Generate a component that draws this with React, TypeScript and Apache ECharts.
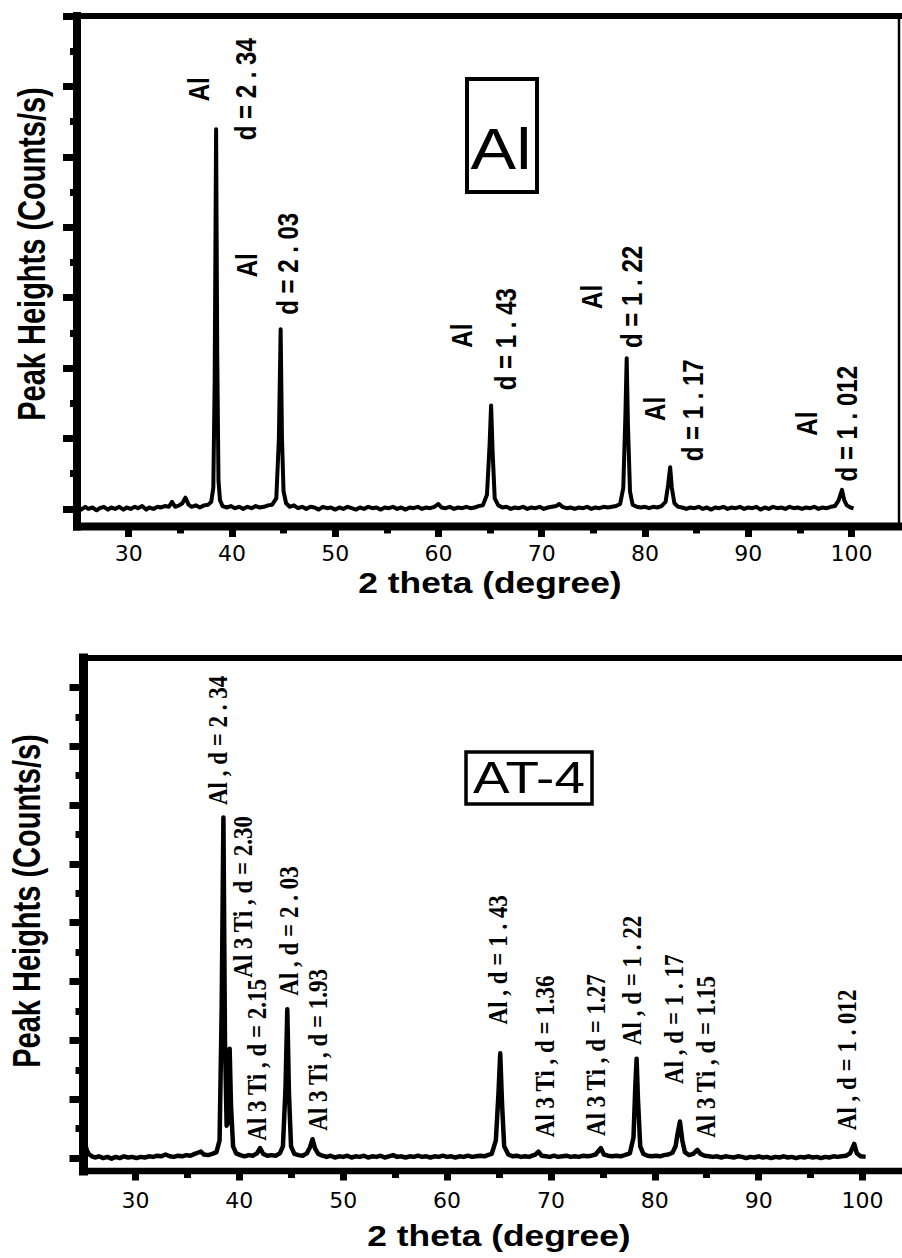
import React, { useEffect, useRef } from "react";
import * as echarts from "echarts";

// ---------- data ----------
const alSpectrum: [number, number][] = [
  [25.1, 0.02], [25.4, -0.01], [25.8, 0.03], [26.1, 0.0], [26.5, 0.02], [26.9, -0.02], [27.2, 0.01], [27.6, 0.03],
  [28.0, -0.01], [28.3, 0.02], [28.7, 0.0], [29.1, 0.03], [29.5, -0.01], [29.8, 0.02], [30.2, 0.0], [30.6, 0.03],
  [30.9, 0.01], [31.3, 0.04], [31.7, -0.01], [32.0, 0.02], [32.4, 0.0], [32.8, 0.03], [33.1, 0.02], [33.5, 0.04],
  [33.9, 0.03], [34.2, 0.1], [34.5, 0.03], [34.9, 0.05], [35.2, 0.08], [35.5, 0.16], [35.8, 0.06], [36.1, 0.03],
  [36.5, 0.05], [36.9, 0.02], [37.3, 0.05], [37.7, 0.06], [38.0, 0.1], [38.2, 0.3], [38.33, 1.8], [38.47, 5.39],
  [38.58, 2.2], [38.7, 0.4], [38.85, 0.12], [39.1, 0.04], [39.5, 0.02], [39.9, 0.04], [40.3, 0.01], [40.7, 0.03],
  [41.1, 0.0], [41.5, 0.03], [41.9, 0.01], [42.3, 0.04], [42.7, 0.02], [43.1, 0.03], [43.5, 0.05], [43.9, 0.06],
  [44.3, 0.15], [44.55, 1.0], [44.72, 2.55], [44.85, 1.0], [45.0, 0.25], [45.25, 0.08], [45.6, 0.03], [46.0, 0.05],
  [46.4, 0.01], [46.8, 0.03], [47.2, 0.0], [47.6, 0.03], [48.0, 0.02], [48.4, -0.01], [48.8, 0.03], [49.2, 0.01],
  [49.6, 0.02], [50.0, -0.01], [50.4, 0.02], [50.8, 0.0], [51.2, 0.03], [51.6, 0.01], [52.0, -0.01], [52.4, 0.02],
  [52.8, 0.0], [53.2, 0.03], [53.6, 0.01], [54.0, 0.02], [54.4, -0.01], [54.8, 0.02], [55.2, 0.01], [55.6, 0.03],
  [56.0, 0.0], [56.4, 0.02], [56.8, -0.01], [57.2, 0.02], [57.6, 0.01], [58.0, 0.03], [58.4, 0.0], [58.8, 0.02],
  [59.2, 0.01], [59.6, 0.03], [60.0, 0.07], [60.3, 0.02], [60.7, 0.01], [61.1, 0.03], [61.5, 0.0], [61.9, 0.02],
  [62.3, 0.01], [62.7, 0.03], [63.1, 0.01], [63.5, 0.02], [63.9, 0.04], [64.3, 0.05], [64.7, 0.2], [64.95, 0.9],
  [65.1, 1.47], [65.25, 0.8], [65.45, 0.15], [65.8, 0.05], [66.2, 0.02], [66.6, 0.03], [67.0, 0.0], [67.4, 0.02],
  [67.8, 0.01], [68.2, 0.03], [68.6, 0.0], [69.0, 0.02], [69.4, 0.01], [69.8, 0.03], [70.2, 0.0], [70.6, 0.02],
  [71.0, 0.03], [71.4, 0.04], [71.7, 0.07], [72.0, 0.03], [72.4, 0.01], [72.8, 0.02], [73.2, 0.0], [73.6, 0.02],
  [74.0, 0.01], [74.4, 0.03], [74.8, 0.0], [75.2, 0.02], [75.6, 0.01], [76.0, 0.03], [76.4, 0.02], [76.8, 0.03],
  [77.2, 0.04], [77.6, 0.07], [77.9, 0.3], [78.1, 1.3], [78.23, 2.14], [78.35, 1.2], [78.55, 0.25], [78.8, 0.06],
  [79.2, 0.03], [79.6, 0.02], [80.0, 0.03], [80.4, 0.01], [80.8, 0.03], [81.2, 0.02], [81.6, 0.04], [82.0, 0.1],
  [82.25, 0.35], [82.44, 0.59], [82.6, 0.3], [82.85, 0.08], [83.2, 0.03], [83.6, 0.02], [84.0, 0.0], [84.4, 0.02],
  [84.8, 0.01], [85.2, 0.03], [85.6, 0.0], [86.0, 0.02], [86.4, -0.01], [86.8, 0.02], [87.2, 0.01], [87.6, 0.03],
  [88.0, 0.0], [88.4, 0.02], [88.8, 0.01], [89.2, 0.03], [89.6, 0.0], [90.0, 0.02], [90.4, 0.01], [90.8, 0.03],
  [91.2, -0.01], [91.6, 0.02], [92.0, 0.0], [92.4, 0.03], [92.8, 0.01], [93.2, 0.02], [93.6, 0.0], [94.0, 0.03],
  [94.4, 0.01], [94.8, 0.02], [95.2, 0.0], [95.6, 0.02], [96.0, 0.01], [96.4, 0.03], [96.8, 0.0], [97.2, 0.02],
  [97.6, 0.01], [98.0, 0.03], [98.4, 0.04], [98.75, 0.12], [99.08, 0.27], [99.3, 0.12], [99.55, 0.05], [99.9, 0.02],
  [100.2, 0.01],
];

const at4Spectrum: [number, number][] = [
  [25.05, 0.04], [25.15, 0.26], [25.3, 0.14], [25.5, 0.07], [25.8, 0.03], [26.1, 0.01], [26.5, 0.03], [26.9, 0.0],
  [27.3, 0.02], [27.7, -0.01], [28.1, 0.02], [28.5, 0.0], [28.9, 0.03], [29.3, 0.01], [29.7, 0.02], [30.1, 0.0],
  [30.5, 0.02], [30.9, 0.01], [31.3, 0.03], [31.7, 0.02], [32.1, 0.04], [32.5, 0.03], [32.9, 0.06], [33.3, 0.03],
  [33.7, 0.02], [34.1, 0.04], [34.5, 0.03], [34.9, 0.05], [35.3, 0.04], [35.7, 0.07], [36.0, 0.09], [36.3, 0.11],
  [36.6, 0.06], [37.0, 0.05], [37.4, 0.07], [37.8, 0.1], [38.1, 0.3], [38.3, 2.5], [38.47, 5.79], [38.62, 2.0],
  [38.78, 0.55], [38.9, 0.6], [39.07, 1.86], [39.2, 0.9], [39.4, 0.2], [39.7, 0.08], [40.1, 0.05], [40.5, 0.03],
  [40.9, 0.05], [41.3, 0.04], [41.7, 0.08], [42.0, 0.17], [42.3, 0.07], [42.7, 0.04], [43.1, 0.05], [43.5, 0.04],
  [43.9, 0.08], [44.2, 0.2], [44.45, 1.2], [44.62, 2.53], [44.78, 1.1], [44.98, 0.2], [45.3, 0.07], [45.7, 0.05],
  [46.1, 0.04], [46.5, 0.08], [46.8, 0.18], [47.05, 0.32], [47.3, 0.16], [47.6, 0.07], [48.0, 0.04], [48.4, 0.02],
  [48.8, 0.04], [49.2, 0.01], [49.6, 0.03], [50.0, 0.02], [50.4, 0.04], [50.8, 0.01], [51.2, 0.03], [51.6, 0.02],
  [52.0, 0.04], [52.4, 0.01], [52.8, 0.03], [53.2, 0.02], [53.6, 0.04], [54.0, 0.01], [54.4, 0.03], [54.8, 0.05],
  [55.2, 0.02], [55.6, 0.03], [56.0, 0.01], [56.4, 0.03], [56.8, 0.02], [57.2, 0.04], [57.6, 0.02], [58.0, 0.03],
  [58.4, 0.01], [58.8, 0.03], [59.2, 0.02], [59.6, 0.04], [60.0, 0.02], [60.4, 0.03], [60.8, 0.01], [61.2, 0.03],
  [61.6, 0.02], [62.0, 0.04], [62.4, 0.02], [62.8, 0.03], [63.2, 0.04], [63.6, 0.03], [63.9, 0.05], [64.3, 0.07],
  [64.7, 0.3], [64.95, 1.1], [65.12, 1.78], [65.3, 0.9], [65.5, 0.2], [65.9, 0.06], [66.3, 0.03], [66.7, 0.04],
  [67.1, 0.02], [67.5, 0.03], [67.9, 0.02], [68.2, 0.04], [68.5, 0.06], [68.8, 0.11], [69.1, 0.04], [69.5, 0.03],
  [69.9, 0.02], [70.3, 0.04], [70.7, 0.02], [71.1, 0.03], [71.5, 0.04], [71.9, 0.02], [72.3, 0.03], [72.7, 0.02],
  [73.1, 0.04], [73.5, 0.03], [73.9, 0.04], [74.3, 0.06], [74.8, 0.17], [75.1, 0.06], [75.5, 0.04], [75.9, 0.03],
  [76.3, 0.04], [76.7, 0.03], [77.1, 0.05], [77.6, 0.08], [77.95, 0.35], [78.12, 1.2], [78.25, 1.69], [78.38, 1.0],
  [78.6, 0.2], [78.9, 0.07], [79.3, 0.04], [79.7, 0.03], [80.1, 0.04], [80.5, 0.03], [80.9, 0.05], [81.3, 0.06],
  [81.7, 0.09], [82.0, 0.2], [82.2, 0.42], [82.42, 0.62], [82.65, 0.3], [82.9, 0.1], [83.3, 0.05], [83.7, 0.07],
  [84.1, 0.14], [84.4, 0.07], [84.8, 0.04], [85.2, 0.03], [85.6, 0.02], [86.0, 0.03], [86.4, 0.01], [86.8, 0.03],
  [87.2, 0.02], [87.6, 0.01], [88.0, 0.03], [88.4, 0.02], [88.8, 0.0], [89.2, 0.02], [89.6, 0.01], [90.0, 0.03],
  [90.4, 0.01], [90.8, 0.02], [91.2, 0.0], [91.6, 0.02], [92.0, 0.01], [92.4, 0.03], [92.8, 0.01], [93.2, 0.02],
  [93.6, 0.0], [94.0, 0.02], [94.4, 0.01], [94.8, 0.03], [95.2, 0.01], [95.6, 0.02], [96.0, 0.0], [96.4, 0.02],
  [96.8, 0.01], [97.2, 0.03], [97.6, 0.02], [98.0, 0.03], [98.4, 0.04], [98.8, 0.08], [99.2, 0.24], [99.45, 0.08],
  [99.8, 0.03], [100.3, 0.02],
];

const alLabels = [
  { x: 36.81, y: 5.96, text: "Al" },
  { x: 41.27, y: 5.96, text: "d = 2 . 34" },
  { x: 41.46, y: 3.46, text: "Al" },
  { x: 45.43, y: 3.48, text: "d = 2 . 03" },
  { x: 62.28, y: 2.46, text: "Al" },
  { x: 66.45, y: 2.41, text: "d = 1 . 43" },
  { x: 74.87, y: 3.01, text: "Al" },
  { x: 78.65, y: 3.01, text: "d = 1 . 22" },
  { x: 80.97, y: 1.42, text: "Al" },
  { x: 84.65, y: 1.4, text: "d = 1 . 17" },
  { x: 95.69, y: 1.21, text: "Al" },
  { x: 99.56, y: 1.21, text: "d = 1 . 012" },
];

const at4Labels = [
  { x: 37.85, y: 7.1, text: "Al , d = 2 . 34" },
  { x: 40.26, y: 4.44, text: "Al 3 Ti , d = 2.30" },
  { x: 41.61, y: 1.67, text: "Al 3 Ti , d = 2.15" },
  { x: 44.69, y: 3.86, text: "Al , d = 2 . 03" },
  { x: 47.48, y: 1.84, text: "Al 3 Ti , d = 1.93" },
  { x: 64.81, y: 3.37, text: "Al , d = 1 . 43" },
  { x: 69.34, y: 1.73, text: "Al 3 Ti , d = 1.36" },
  { x: 74.25, y: 1.75, text: "Al 3 Ti , d = 1.27" },
  { x: 77.71, y: 3.02, text: "Al , d = 1 . 22" },
  { x: 81.75, y: 2.36, text: "Al , d = 1 . 17" },
  { x: 84.83, y: 1.72, text: "Al 3 Ti , d = 1.15" },
  { x: 98.41, y: 1.67, text: "Al , d = 1 . 012" },
];

const sampleNames = ["Al", "AT-4"];
const xAxisTitle = "2 theta (degree)";
const yAxisTitle = "Peak Heights (Counts/s)";
const xTickRange = [30, 100, 10];

// ---------- layout ----------
const W = 902;
const H = 1258;
const BLACK = "#000";

type Panel = {
  left: number; right: number; top: number; bottom: number;
  xMin: number; xMax: number; yMin: number; yMax: number; tickYMax: number;
  leftW: number; bottomW: number; topW: number; rightW: number;
  labelMargin: number; xTickLen: number; xMinorLen: number; yTickLen: number; yMinorLen: number;
};

const P1: Panel = {
  left: 77, right: 899, top: 16, bottom: 526.5,
  xMin: 25, xMax: 104.6, yMin: -0.25, yMax: 7, tickYMax: 7,
  leftW: 8, bottomW: 8, topW: 6, rightW: 2.5,
  labelMargin: 16, xTickLen: 10.5, xMinorLen: 7, yTickLen: 14, yMinorLen: 7,
};
const P2: Panel = {
  left: 83.5, right: 902, top: 658, bottom: 1171,
  xMin: 25, xMax: 103.8, yMin: -0.22, yMax: 8.5, tickYMax: 8,
  leftW: 9, bottomW: 6.5, topW: 6, rightW: 0,
  labelMargin: 18, xTickLen: 9.5, xMinorLen: 7, yTickLen: 14, yMinorLen: 8,
};

function buildPanel(p: Panel, base: number) {
  const sx = (p.right - p.left) / (p.xMax - p.xMin);
  const sy = (p.bottom - p.top) / (p.yMax - p.yMin);
  const y0 = p.bottom + p.yMin * sy;
  const tx0 = p.left + (xTickRange[0] - p.xMin) * sx;
  const grids = [
    { left: p.left, top: p.top, width: p.right - p.left, height: p.bottom - p.top, outerBoundsMode: "none" },
    {
      left: tx0, top: y0 - p.tickYMax * sy, width: (xTickRange[1] - xTickRange[0]) * sx,
      height: p.tickYMax * sy, outerBoundsMode: "none",
    },
  ];
  const hidden = { show: false, onZero: false };
  const xAxes = [
    {
      gridIndex: base, type: "value", position: "bottom", min: p.xMin, max: p.xMax,
      axisLine: hidden, axisTick: { show: false }, axisLabel: { show: false }, splitLine: { show: false },
    },
    {
      gridIndex: base + 1, type: "value", position: "bottom",
      min: xTickRange[0], max: xTickRange[1], interval: xTickRange[2], offset: p.bottom - y0,
      axisLine: hidden,
      axisTick: { show: true, inside: false, length: p.xTickLen, lineStyle: { color: BLACK, width: 7 } },
      minorTick: { show: true, splitNumber: 2, length: p.xMinorLen, lineStyle: { color: BLACK, width: 7 } },
      axisLabel: { show: true, margin: p.labelMargin, fontSize: 22, fontFamily: "DejaVu Sans", color: BLACK },
      splitLine: { show: false },
    },
  ];
  const yAxes = [
    {
      gridIndex: base, type: "value", position: "left", min: p.yMin, max: p.yMax,
      axisLine: hidden, axisTick: { show: false }, axisLabel: { show: false }, splitLine: { show: false },
    },
    {
      gridIndex: base + 1, type: "value", position: "left",
      min: 0, max: p.tickYMax, interval: 1, offset: tx0 - p.left,
      axisLine: hidden,
      axisTick: { show: true, inside: false, length: p.yTickLen, lineStyle: { color: BLACK, width: 7 } },
      minorTick: { show: true, splitNumber: 2, length: p.yMinorLen, lineStyle: { color: BLACK, width: 7 } },
      axisLabel: { show: false }, splitLine: { show: false },
    },
  ];
  // frame lines (plot borders)
  const ln = (x1: number, y1: number, x2: number, y2: number, w: number) => ({
    type: "line", z: 20, shape: { x1, y1, x2, y2 },
    style: { stroke: BLACK, lineWidth: w, lineCap: "square" },
  });
  const frame: any[] = [
    ln(p.left, p.top, p.left, p.bottom, p.leftW),
    ln(p.left, p.bottom, p.right, p.bottom, p.bottomW),
    ln(p.left, p.top, p.right, p.top, p.topW),
  ];
  if (p.rightW > 0) frame.push(ln(p.right, p.top, p.right, p.bottom, p.rightW));
  return { grids, xAxes, yAxes, frame };
}

export default function App() {
  const ref = useRef<HTMLDivElement>(null);
  useEffect(() => {
    if (!ref.current) return;
    const chart = echarts.init(ref.current, null, { renderer: "svg", width: W, height: H });
    const a = buildPanel(P1, 0);
    const b = buildPanel(P2, 2);
    const option: any = {
      animation: false,
      backgroundColor: "#fff",
      grid: [...a.grids, ...b.grids],
      xAxis: [...a.xAxes, ...b.xAxes],
      yAxis: [...a.yAxes, ...b.yAxes],
      series: [
        {
          type: "line", name: sampleNames[0], xAxisIndex: 0, yAxisIndex: 0, data: alSpectrum,
          showSymbol: false, symbol: "none", silent: true, z: 3,
          lineStyle: { color: BLACK, width: 4, join: "round" },
        },
        {
          type: "line", name: sampleNames[1], xAxisIndex: 2, yAxisIndex: 2, data: at4Spectrum,
          showSymbol: false, symbol: "none", silent: true, z: 3,
          lineStyle: { color: BLACK, width: 4.5, join: "round" },
        },
      ],
    };
    chart.setOption(option);

    const graphics: any[] = [...a.frame, ...b.frame];
    const sansBold = { fontFamily: "Liberation Sans, Arial, sans-serif", fontWeight: "bold" };
    const addXTitle = (x: number, y: number) =>
      graphics.push({
        type: "text", x, y, scaleX: 1.22, z: 10,
        style: { text: xAxisTitle, fontSize: 29, ...sansBold, fill: BLACK, align: "center", verticalAlign: "middle" },
      });
    const addYTitle = (x: number, y: number) =>
      graphics.push({
        type: "text", x, y, rotation: Math.PI / 2, scaleY: 1.35, z: 10,
        style: { text: yAxisTitle, fontSize: 29, ...sansBold, fill: BLACK, align: "center", verticalAlign: "middle" },
      });
    addXTitle(490, 583);
    addXTitle(499, 1236);
    addYTitle(31, 254);
    addYTitle(26, 901);

    graphics.push({
      type: "rect", shape: { x: 467, y: 79, width: 70, height: 113 }, z: 10,
      style: { fill: "none", stroke: BLACK, lineWidth: 4 },
    });
    graphics.push({
      type: "text", x: 501, y: 149, scaleX: 1.18, z: 10,
      style: {
        text: sampleNames[0], fontSize: 58, fontFamily: "Liberation Sans, Arial, sans-serif",
        fill: BLACK, align: "center", verticalAlign: "middle",
      },
    });
    graphics.push({
      type: "rect", shape: { x: 466, y: 752, width: 126, height: 52 }, z: 10,
      style: { fill: "none", stroke: BLACK, lineWidth: 3.5 },
    });
    graphics.push({
      type: "text", x: 529, y: 778, scaleX: 1.22, z: 10,
      style: {
        text: sampleNames[1], fontSize: 45, fontFamily: "Liberation Sans, Arial, sans-serif",
        fill: BLACK, align: "center", verticalAlign: "middle",
      },
    });

    alLabels.forEach((l) => {
      const [px, py] = chart.convertToPixel({ xAxisIndex: 0, yAxisIndex: 0 } as any, [l.x, l.y]) as number[];
      graphics.push({
        type: "text", x: px, y: py, rotation: Math.PI / 2, scaleY: 1.25, z: 10,
        style: { text: l.text, fontSize: 24, ...sansBold, fill: BLACK, align: "center", verticalAlign: "middle" },
      });
    });
    at4Labels.forEach((l) => {
      const [px, py] = chart.convertToPixel({ xAxisIndex: 2, yAxisIndex: 2 } as any, [l.x, l.y]) as number[];
      graphics.push({
        type: "text", x: px, y: py, rotation: Math.PI / 2, scaleY: 1.2, z: 10,
        style: {
          text: l.text, fontSize: 23, fontFamily: "Liberation Serif, Times New Roman, serif", fontWeight: "bold",
          fill: BLACK, align: "center", verticalAlign: "middle",
        },
      });
    });

    chart.setOption({ graphic: graphics });
    return () => chart.dispose();
  }, []);
  return (
    <div
      ref={ref}
      style={{ position: "absolute", left: 0, top: 0, width: W, height: H, background: "#fff" }}
    />
  );
}
